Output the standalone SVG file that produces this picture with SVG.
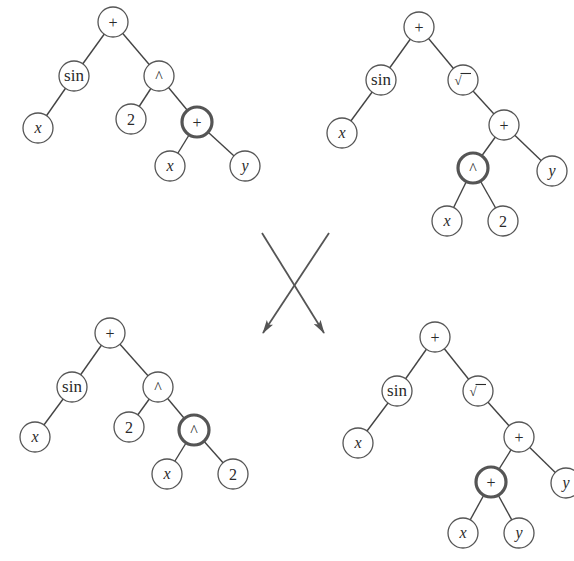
<svg xmlns="http://www.w3.org/2000/svg" width="574" height="561" viewBox="0 0 574 561">
<style>
.e{stroke:#444;stroke-width:1.4;fill:none}
.n circle{fill:#fff;stroke:#555;stroke-width:1.3}
.b circle{stroke:#555;stroke-width:3.2}
text{font-family:"Liberation Serif","Times New Roman",serif;font-size:16px;fill:#2a2a2a;text-anchor:middle;dominant-baseline:central}
.s{font-size:17px}
.v{font-style:italic}
.ar{stroke:#555;stroke-width:1.8;fill:none}
</style>
<defs>
<marker id="ah" viewBox="0 0 14 8" refX="13" refY="4" markerWidth="14" markerHeight="8" markerUnits="userSpaceOnUse" orient="auto">
<path d="M0,0 L14,4 L0,8 L3,4 Z" fill="#555"/>
</marker>
<g id="sq"><text x="-5" y="0" style="font-size:13px">√</text><line x1="-2.5" y1="-6.5" x2="8" y2="-6.5" stroke="#2a2a2a" stroke-width="1.1"/></g>
</defs>
<g id="connectors">
<!-- tree 1 -->
<line class="e" x1="113" y1="22" x2="74" y2="76"/>
<line class="e" x1="113" y1="22" x2="159" y2="76"/>
<line class="e" x1="74" y1="76" x2="38" y2="128"/>
<line class="e" x1="159" y1="76" x2="131" y2="119"/>
<line class="e" x1="159" y1="76" x2="197" y2="122"/>
<line class="e" x1="197" y1="122" x2="170" y2="166"/>
<line class="e" x1="197" y1="122" x2="245" y2="166"/>
<!-- tree 2 -->
<line class="e" x1="419" y1="27" x2="381" y2="80"/>
<line class="e" x1="419" y1="27" x2="463" y2="80"/>
<line class="e" x1="381" y1="80" x2="342" y2="133"/>
<line class="e" x1="463" y1="80" x2="504" y2="125"/>
<line class="e" x1="504" y1="125" x2="473" y2="168"/>
<line class="e" x1="504" y1="125" x2="552" y2="171"/>
<line class="e" x1="473" y1="168" x2="447" y2="221"/>
<line class="e" x1="473" y1="168" x2="503" y2="221"/>
<!-- tree 3 -->
<line class="e" x1="110" y1="333" x2="72" y2="387"/>
<line class="e" x1="110" y1="333" x2="158" y2="387"/>
<line class="e" x1="72" y1="387" x2="35" y2="437"/>
<line class="e" x1="158" y1="387" x2="129" y2="427"/>
<line class="e" x1="158" y1="387" x2="194" y2="430"/>
<line class="e" x1="194" y1="430" x2="167" y2="474"/>
<line class="e" x1="194" y1="430" x2="233" y2="474"/>
<!-- tree 4 -->
<line class="e" x1="435" y1="337" x2="397" y2="391"/>
<line class="e" x1="435" y1="337" x2="478" y2="391"/>
<line class="e" x1="397" y1="391" x2="358" y2="443"/>
<line class="e" x1="478" y1="391" x2="519" y2="437"/>
<line class="e" x1="519" y1="437" x2="491" y2="482"/>
<line class="e" x1="519" y1="437" x2="566" y2="483"/>
<line class="e" x1="491" y1="482" x2="463" y2="533"/>
<line class="e" x1="491" y1="482" x2="519" y2="533"/>
<!-- crossover arrows -->
<line class="ar" x1="262" y1="233" x2="324" y2="333" marker-end="url(#ah)"/>
<line class="ar" x1="329" y1="233" x2="263" y2="333" marker-end="url(#ah)"/>
</g>
<!-- tree 1 nodes -->
<g id="t1-plus" class="n"><circle cx="113" cy="22" r="15"/><text x="113" y="22">+</text></g>
<g id="t1-sin" class="n"><circle cx="74" cy="76" r="15"/><text class="s" x="74" y="75">sin</text></g>
<g id="t1-pow" class="n"><circle cx="159" cy="76" r="15"/><text x="159" y="76">^</text></g>
<g id="t1-x" class="n"><circle cx="38" cy="128" r="15"/><text class="v" x="38" y="127">x</text></g>
<g id="t1-2" class="n"><circle cx="131" cy="119" r="15"/><text x="131" y="119">2</text></g>
<g id="t1-plus2" class="n b"><circle cx="197" cy="122" r="15"/><text x="197" y="122">+</text></g>
<g id="t1-x2" class="n"><circle cx="170" cy="166" r="15"/><text class="v" x="170" y="165">x</text></g>
<g id="t1-y" class="n"><circle cx="245" cy="166" r="15"/><text class="v" x="245" y="165">y</text></g>
<!-- tree 2 nodes -->
<g id="t2-plus" class="n"><circle cx="419" cy="27" r="15"/><text x="419" y="27">+</text></g>
<g id="t2-sin" class="n"><circle cx="381" cy="80" r="15"/><text class="s" x="381" y="79">sin</text></g>
<g id="t2-sqrt" class="n"><circle cx="463" cy="80" r="15"/><use href="#sq" x="463" y="80"/></g>
<g id="t2-x" class="n"><circle cx="342" cy="133" r="15"/><text class="v" x="342" y="132">x</text></g>
<g id="t2-plus2" class="n"><circle cx="504" cy="125" r="15"/><text x="504" y="125">+</text></g>
<g id="t2-pow" class="n b"><circle cx="473" cy="168" r="15"/><text x="473" y="168">^</text></g>
<g id="t2-y" class="n"><circle cx="552" cy="171" r="15"/><text class="v" x="552" y="170">y</text></g>
<g id="t2-x2" class="n"><circle cx="447" cy="221" r="15"/><text class="v" x="447" y="220">x</text></g>
<g id="t2-2" class="n"><circle cx="503" cy="221" r="15"/><text x="503" y="221">2</text></g>
<!-- tree 3 nodes -->
<g id="t3-plus" class="n"><circle cx="110" cy="333" r="15"/><text x="110" y="333">+</text></g>
<g id="t3-sin" class="n"><circle cx="72" cy="387" r="15"/><text class="s" x="72" y="386">sin</text></g>
<g id="t3-pow" class="n"><circle cx="158" cy="387" r="15"/><text x="158" y="387">^</text></g>
<g id="t3-x" class="n"><circle cx="35" cy="437" r="15"/><text class="v" x="35" y="436">x</text></g>
<g id="t3-2" class="n"><circle cx="129" cy="427" r="15"/><text x="129" y="427">2</text></g>
<g id="t3-pow2" class="n b"><circle cx="194" cy="430" r="15"/><text x="194" y="430">^</text></g>
<g id="t3-x2" class="n"><circle cx="167" cy="474" r="15"/><text class="v" x="167" y="473">x</text></g>
<g id="t3-22" class="n"><circle cx="233" cy="474" r="15"/><text x="233" y="474">2</text></g>
<!-- tree 4 nodes -->
<g id="t4-plus" class="n"><circle cx="435" cy="337" r="15"/><text x="435" y="337">+</text></g>
<g id="t4-sin" class="n"><circle cx="397" cy="391" r="15"/><text class="s" x="397" y="390">sin</text></g>
<g id="t4-sqrt" class="n"><circle cx="478" cy="391" r="15"/><use href="#sq" x="478" y="391"/></g>
<g id="t4-x" class="n"><circle cx="358" cy="443" r="15"/><text class="v" x="358" y="442">x</text></g>
<g id="t4-plus2" class="n"><circle cx="519" cy="437" r="15"/><text x="519" y="437">+</text></g>
<g id="t4-plus3" class="n b"><circle cx="491" cy="482" r="15"/><text x="491" y="482">+</text></g>
<g id="t4-y" class="n"><circle cx="566" cy="483" r="15"/><text class="v" x="566" y="482">y</text></g>
<g id="t4-x2" class="n"><circle cx="463" cy="533" r="15"/><text class="v" x="463" y="532">x</text></g>
<g id="t4-y2" class="n"><circle cx="519" cy="533" r="15"/><text class="v" x="519" y="532">y</text></g>
</svg>
